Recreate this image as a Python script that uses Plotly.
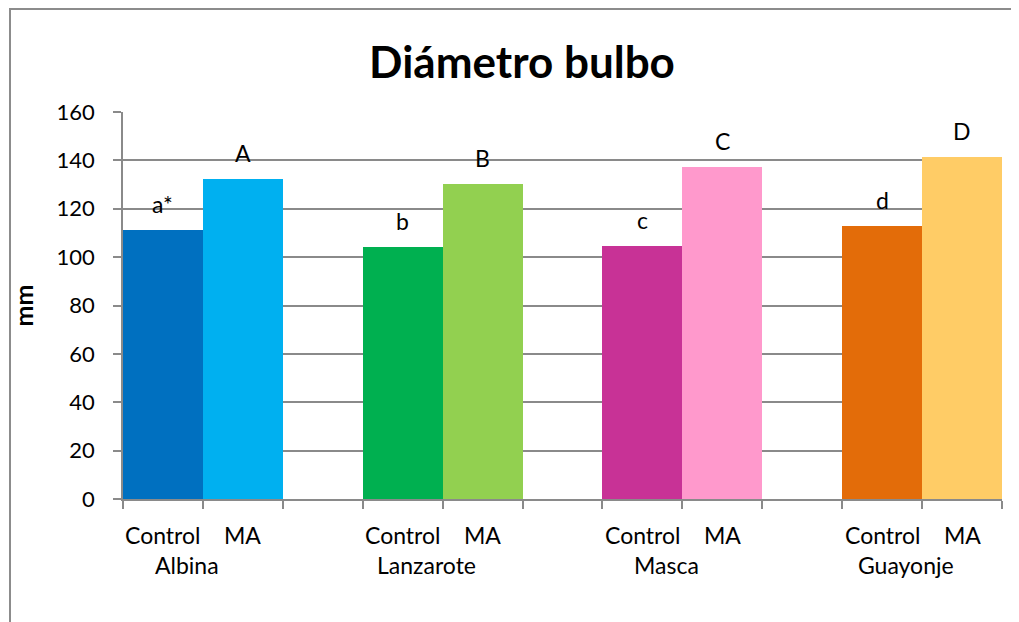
import plotly.graph_objects as go

# ---- data ----
groups = ["Albina", "Lanzarote", "Masca", "Guayonje"]
treatments = ["Control", "MA"]
control_values = [111.2, 104.3, 104.6, 112.9]
ma_values = [132.3, 130.2, 137.3, 141.4]
control_letters = ["a*", "b", "c", "d"]
ma_letters = ["A", "B", "C", "D"]

# ---- styles ----
control_colors = ["#0070C0", "#00B050", "#C83296", "#E36C09"]
ma_colors = ["#00B0F0", "#92D050", "#FF99CC", "#FFCC66"]
FONT = "Lato"
GRID = "#8A8A8A"

# page body has an 8px margin; compensate
OFF = 8
W, H = 1019 - OFF, 622 - OFF
L, T, R, B = 123 - OFF, 112 - OFF, 17, 123
PW, PH = W - L - R, H - T - B  # 879 x 387

xs, ys, cols, letters = [], [], [], []
for i, g in enumerate(groups):
    for j, (vals, labs, cl) in enumerate([(control_values, control_letters, control_colors),
                                           (ma_values, ma_letters, ma_colors)]):
        xs.append(3 * i + j)
        ys.append(vals[i])
        cols.append(cl[i])
        letters.append(labs[i])

fig = go.Figure()
fig.add_trace(go.Bar(x=xs, y=ys, width=1, marker=dict(color=cols, line=dict(width=0)),
                     hoverinfo="x+y", showlegend=False))

annotations = []
for x, y, t in zip(xs, ys, letters):
    annotations.append(dict(x=x, y=y, xref="x", yref="y", text=t, showarrow=False,
                            yanchor="middle", yshift=26,
                            font=dict(family=FONT, size=23, color="#000")))

for i, g in enumerate(groups):
    for j, t in enumerate(treatments):
        annotations.append(dict(x=3 * i + j, y=-36 / PH, xref="x", yref="paper", text=t,
                                showarrow=False, yanchor="middle",
                                font=dict(family=FONT, size=23, color="#000")))
    annotations.append(dict(x=3 * i + 0.3, y=-66 / PH, xref="x", yref="paper", text=g,
                            showarrow=False, yanchor="middle",
                            font=dict(family=FONT, size=23, color="#000")))

n_slots = 3 * len(groups) - 1
boundaries = [k - 0.5 for k in range(n_slots + 1)]

fig.update_layout(
    width=W, height=H,
    margin=dict(l=L, r=R, t=T, b=B, pad=0),
    paper_bgcolor="white", plot_bgcolor="white",
    title=dict(text="<b>Diámetro bulbo</b>", x=(522 - OFF) / W, xanchor="center",
               y=1 - (63 - OFF) / H, yanchor="middle",
               font=dict(family=FONT, size=44, color="#000")),
    bargap=0,
    annotations=annotations,
    xaxis=dict(range=[-0.5, n_slots - 0.5], tickmode="array", tickvals=boundaries,
               showticklabels=False, ticks="outside", ticklen=8, tickcolor=GRID, tickwidth=1.5,
               showgrid=False, zeroline=False, showline=True, linecolor=GRID, linewidth=1.5),
    yaxis=dict(range=[0, 160], dtick=20, tick0=0, ticks="outside", ticklen=8,
               tickcolor=GRID, tickwidth=1.5, showgrid=True, gridcolor=GRID, gridwidth=1.5,
               zeroline=False, showline=True, linecolor=GRID, linewidth=1.5,
               tickfont=dict(family=FONT, size=22, color="#000"), ticklabelstandoff=14,
               title=dict(text="<b>mm</b>", font=dict(family=FONT, size=25, color="#000"),
                          standoff=18)),
    shapes=[dict(type="rect", xref="paper", yref="paper",
                 x0=(10 - 123) / PW, x1=(1060 - 123) / PW,
                 y0=(499 - 660) / PH, y1=(499 - 9) / PH,
                 line=dict(color="#8C8C8C", width=2), layer="below")],
)

fig.write_html("out.html")
